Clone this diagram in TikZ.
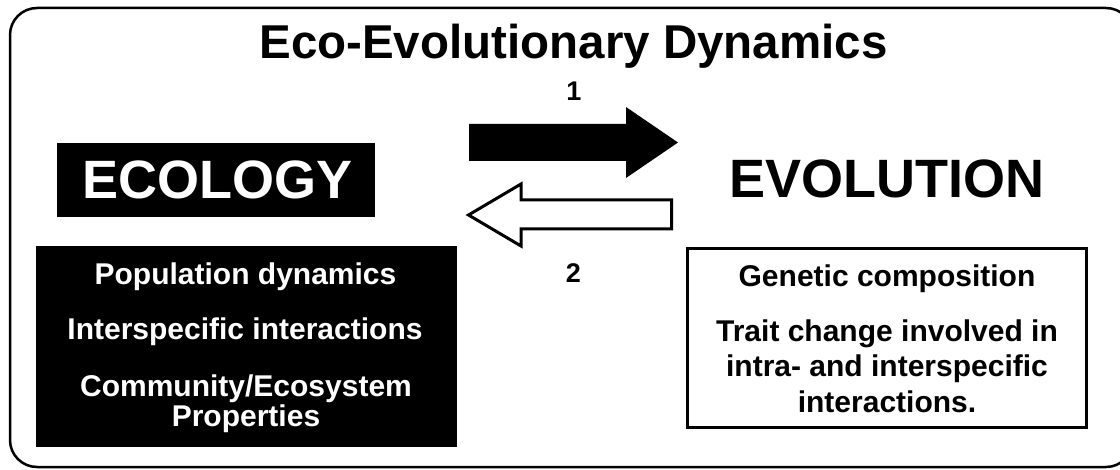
\documentclass[tikz,border=0pt]{standalone}
\usepackage{fontspec}
\setmainfont{Liberation Sans}
\begin{document}
\begin{tikzpicture}[x=1pt,y=-1pt,
  txt/.style={inner sep=0pt, anchor=base, font=\bfseries\fontsize{30}{30}\selectfont},
  big/.style={inner sep=0pt, anchor=base, font=\bfseries\fontsize{54}{54}\selectfont},
  num/.style={inner sep=0pt, anchor=base, font=\bfseries\fontsize{27}{27}\selectfont},
  blackbox/.style={fill=black, draw=none, inner sep=0pt},
  whitebox/.style={draw=black, line width=3pt, fill=white, inner sep=0pt},
  bigarrow/.style={line width=3pt, miter limit=10, line join=miter}]
\useasboundingbox (0,0) rectangle (1120,470);
\clip (0,0) rectangle (1120,470);
\fill[white] (0,0) rectangle (1120,470);
% outer frame
\draw[line width=2.5pt, rounded corners=27pt] (10,8) rectangle (1133,467);
% title
\node[inner sep=0pt, anchor=base, font=\bfseries\fontsize{47.5}{47.5}\selectfont] (title) at (573.5,59) {Eco-Evolutionary Dynamics};
% ECOLOGY label
\node[blackbox, minimum width=318pt, minimum height=74pt] (ecobox) at (216,180) {};
\node[big, text=white] (eco) at (217.5,199) {ECOLOGY};
% EVOLUTION label
\node[big] (evo) at (887,198) {EVOLUTION};
% arrows
\fill[black] (469,124) -- (626,124) -- (626,107) -- (678,142.5) -- (626,178) -- (626,161) -- (469,161) -- cycle;
\draw[bigarrow, fill=white] (468.5,215) -- (521,184) -- (521,200) -- (671.5,200) -- (671.5,229) -- (521,229) -- (521,246) -- cycle;
\node[num] (one) at (574,101) {1};
\node[num] (two) at (573.5,283) {2};
% ecology box
\node[blackbox, minimum width=421pt, minimum height=201pt] (ecolist) at (246.5,346.5) {};
\node[txt, text=white] (e1) at (245.5,285) {Population dynamics};
\node[txt, text=white] (e2) at (245,340) {Interspecific interactions};
\node[txt, text=white] (e3) at (246,397) {Community/Ecosystem};
\node[txt, text=white] (e4) at (246,427) {Properties};
% evolution box
\node[whitebox, minimum width=399pt, minimum height=179pt] (evolist) at (887,338) {};
\node[txt] (v1) at (887,287) {Genetic composition};
\node[txt] (v2) at (887,342) {Trait change involved in};
\node[txt] (v3) at (887,377) {intra- and interspecific};
\node[txt] (v4) at (887,413) {interactions.};
\end{tikzpicture}
\end{document}
